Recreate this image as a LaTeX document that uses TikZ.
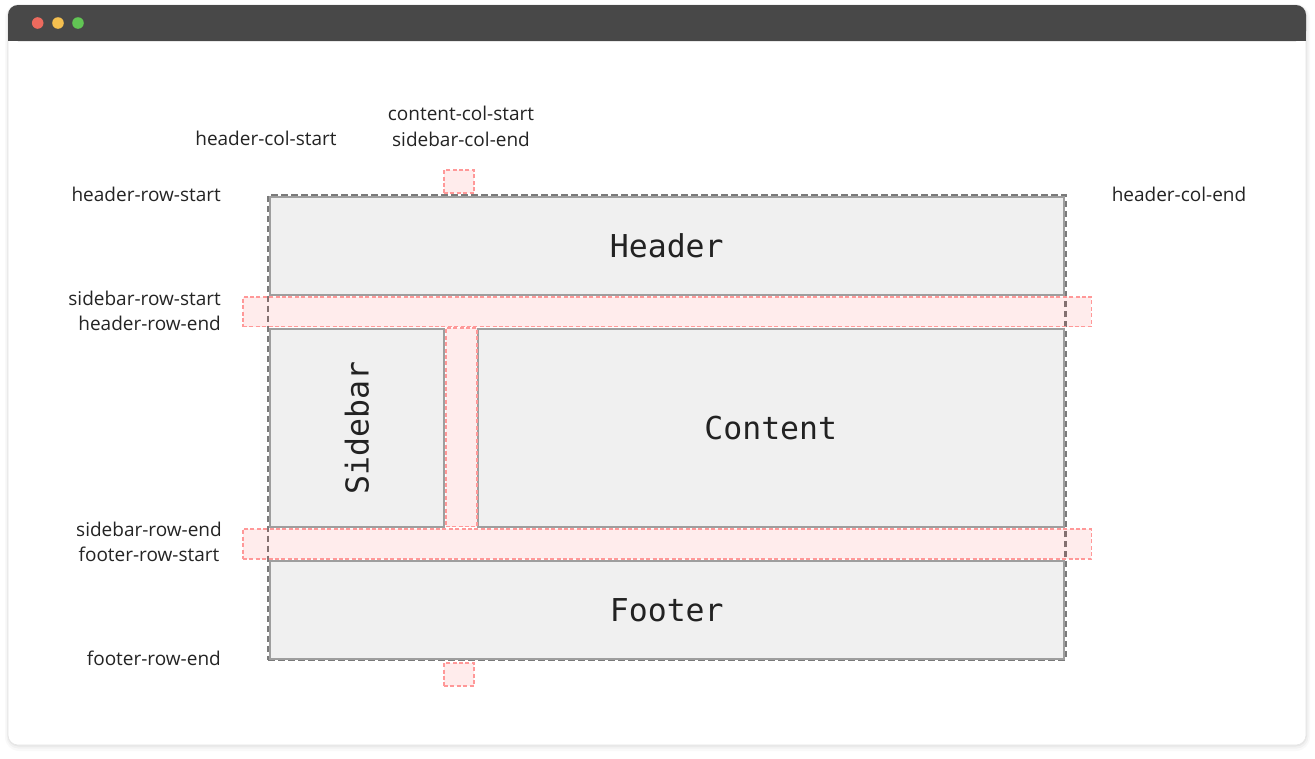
\documentclass[tikz,border=0pt]{standalone}
\usepackage{fontspec}
\setmainfont{Open Sans}
\newfontfamily\boxfont{DejaVu Sans Mono}
\definecolor{barcol}{HTML}{484848}
\definecolor{dotred}{HTML}{EC6A5E}
\definecolor{dotyellow}{HTML}{F4BF4F}
\definecolor{dotgreen}{HTML}{61C554}
\definecolor{boxfill}{HTML}{F0F0F0}
\definecolor{boxline}{HTML}{9E9E9E}
\definecolor{outerline}{HTML}{7A7A7A}
\definecolor{pinkline}{HTML}{FF9898}
\definecolor{labelcol}{HTML}{242424}
\definecolor{boxtext}{HTML}{222222}
\tikzset{
  gridbox/.style={draw=boxline, fill=boxfill, line width=2pt, inner sep=0pt, outer sep=0pt, anchor=north west},
  boxlabel/.style={font=\boxfont\fontsize{31.5}{31.5}\selectfont, text=boxtext},
  gapbox/.style={draw=pinkline, fill=red, fill opacity=0.075, draw opacity=1, line width=1.6pt, dash pattern=on 4pt off 2.4pt, inner sep=0pt, outer sep=0pt, anchor=north west},
  lbl/.style={font=\fontsize{19}{21}\selectfont, text=labelcol, inner sep=0pt},
  outerbox/.style={draw=outerline, line width=2.2pt, dash pattern=on 6.5pt off 3.5pt, inner sep=0pt, outer sep=0pt, anchor=north west}
}
\begin{document}
\begin{tikzpicture}[x=1pt,y=-1pt]
\useasboundingbox (0,0) rectangle (1315,758);
\fill[white] (0,0) rectangle (1315,758);
% shadow
\fill[black, opacity=0.025, rounded corners=14] (5,4) rectangle (1310,751);
\fill[black, opacity=0.03, rounded corners=12] (6.5,5) rectangle (1308.5,748.5);
\fill[black, opacity=0.04, rounded corners=11] (7.5,5) rectangle (1307,746.5);
% window
\fill[white, rounded corners=10] (8,5) rectangle (1306,745);
\draw[black!10, line width=0.6pt, rounded corners=10] (8,5) rectangle (1306,745);
\fill[barcol, rounded corners=10] (8,5) rectangle (1306,41);
\fill[barcol] (8,25) rectangle (1306,41);
\fill[dotred] (37.7,23) circle (5.8);
\fill[dotyellow] (58,23) circle (5.8);
\fill[dotgreen] (78,23) circle (5.8);
% outer grid
\node[outerbox, minimum width=797.2pt, minimum height=465pt] (grid) at (268.3,195) {};
% grid areas
\node[gridbox, minimum width=793.5pt, minimum height=98pt] (header) at (270,197) {};
\node[gridbox, minimum width=173.7pt, minimum height=197.5pt] (sidebar) at (270,329) {};
\node[gridbox, minimum width=585.5pt, minimum height=197.5pt] (content) at (478,329) {};
\node[gridbox, minimum width=793.5pt, minimum height=98.5pt] (footer) at (270,560.5) {};
\node[boxlabel] (headertxt) at (header.center) {Header};
\node[boxlabel, rotate=90] (sidebartxt) at (sidebar.center) {Sidebar};
\node[boxlabel] (contenttxt) at (content.center) {Content};
\node[boxlabel] (footertxt) at (footer.center) {Footer};
% gaps
\node[gapbox, minimum width=848.3pt, minimum height=29.5pt] (band1) at (243,297) {};
\node[gapbox, minimum width=848.3pt, minimum height=30pt] (band2) at (243,529) {};
\node[gapbox, minimum width=31.3pt, minimum height=198.5pt] (colgap) at (445.7,328) {};
\node[gapbox, minimum width=30pt, minimum height=23pt] (topsq) at (444,170) {};
\node[gapbox, minimum width=30pt, minimum height=23pt] (botsq) at (444,663) {};
% labels
\node[lbl, anchor=east] (l1) at (221,194) {header-row-start};
\node[lbl, anchor=east] (l2) at (221,298) {sidebar-row-start};
\node[lbl, anchor=east] (l3) at (221,323) {header-row-end};
\node[lbl] (l4) at (149,529) {sidebar-row-end};
\node[lbl] (l5) at (149,554) {footer-row-start};
\node[lbl, anchor=east] (l6) at (221,658) {footer-row-end};
\node[lbl] (l7) at (266,138) {header-col-start};
\node[lbl] (l8) at (461,113) {content-col-start};
\node[lbl] (l9) at (461,139) {sidebar-col-end};
\node[lbl] (l10) at (1179,194) {header-col-end};
\end{tikzpicture}
\end{document}
